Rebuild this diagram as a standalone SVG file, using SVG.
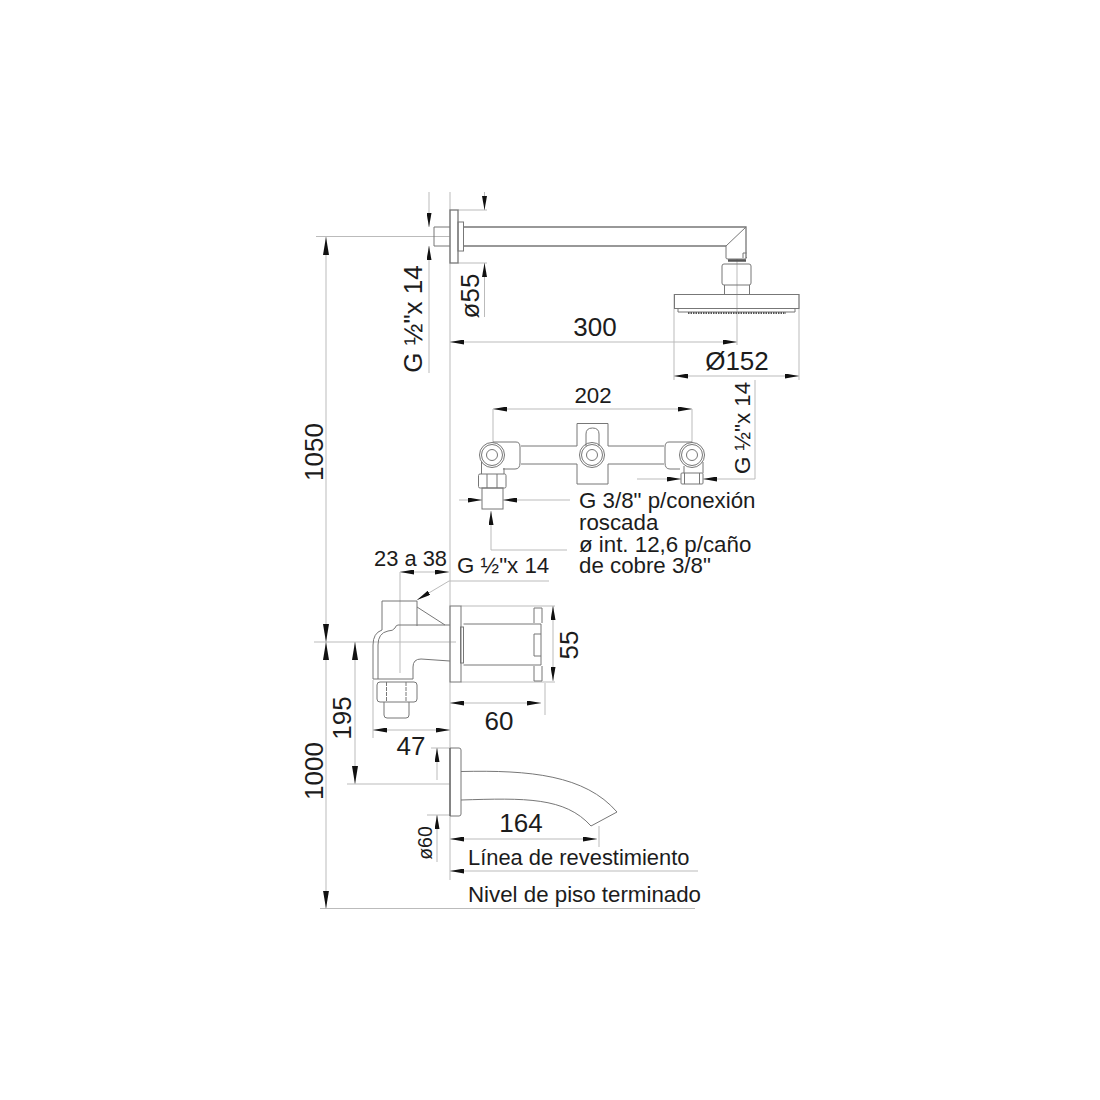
<svg xmlns="http://www.w3.org/2000/svg" width="1100" height="1100" viewBox="0 0 1100 1100">
<style>
text{font-family:"Liberation Sans",Arial,sans-serif;fill:#1c1c1c}
.t25{font-size:26px}.t21{font-size:22.3px}.t20{font-size:21.9px}.t19{font-size:19.5px}
.m{text-anchor:middle}
.o{fill:none;stroke:#777;stroke-width:1}
.o2{fill:none;stroke:#777;stroke-width:1.3}
.d{fill:none;stroke:#bbb;stroke-width:1}
.a{marker-end:url(#arr)}
.b{marker-end:url(#arrL)}
</style>
<defs>
<marker id="arr" viewBox="0 0 14 5" refX="14" refY="2.5" markerUnits="userSpaceOnUse" markerWidth="14" markerHeight="5" orient="auto"><path d="M0 0L14 2.5L0 5Z" fill="#111"/></marker>
<marker id="arrL" viewBox="0 0 18 6" refX="18" refY="3" markerUnits="userSpaceOnUse" markerWidth="18" markerHeight="6" orient="auto"><path d="M0 0L18 3L0 6Z" fill="#111"/></marker>
</defs>
<rect width="1100" height="1100" fill="#fff"/>
<g id="connectors">
<path class="d" d="M450 192V880M316 236.500H450M314 642H456M320 908.500H695"/>
<path class="d b" d="M326 440V237"/><path class="d b" d="M326 440V642"/>
<path class="d b" d="M326 775V642"/><path class="d b" d="M326 775V908.500"/>
<path class="d b" d="M355 710V642"/><path class="d b" d="M355 710V784"/><path class="d" d="M347 784H450"/>
<path class="d a" d="M429 192V227"/><path class="d a" d="M429 373V246"/>
<path class="d" d="M458 210H487M458 263H487"/>
<path class="d a" d="M484.500 192V210"/><path class="d a" d="M484.500 317V263"/>
<path class="d a" d="M595 342H450"/><path class="d a" d="M595 342H737"/><path class="d" d="M737 259V345"/>
<path class="d" d="M674 294V380M799 294V380"/>
<path class="d a" d="M737 376H674"/><path class="d a" d="M737 376H799"/>
<path class="d a" d="M590 409H493"/><path class="d a" d="M590 409H692"/><path class="d" d="M493 409V443M692 409V443"/>
<path class="d a" d="M637 479H681"/><path class="d a" d="M755 479H703"/><path class="d" d="M755 380V479"/>
<path class="d a" d="M459 500H482"/><path class="d a" d="M570 500H503"/>
<path class="d a" d="M491 550V511"/><path class="d" d="M491 550H567"/>
<path class="d a" d="M425 572H400"/><path class="d a" d="M425 572H449"/><path class="d" d="M400 572V673"/>
<path class="d" d="M549 581H449"/><path class="d a" d="M449 581L417 600"/>
<path class="d" d="M461 606H555M461 682H555"/>
<path class="d a" d="M553 640V606"/><path class="d a" d="M553 640V681"/>
<path class="d" d="M545 683V715"/><path class="d a" d="M495 703H450"/><path class="d a" d="M495 703H541"/>
<path class="d" d="M373 680V738"/><path class="d a" d="M410 730H373"/><path class="d a" d="M410 730H450"/>
<path class="d" d="M431 748H450M427 815H450"/>
<path class="d a" d="M437 780V748"/><path class="d a" d="M437 862V815"/>
<path class="d" d="M599 826V847"/><path class="d a" d="M520 839H450"/><path class="d a" d="M520 839H597"/>
<path class="d a" d="M698 871H450"/>
</g>
<g id="shower-arm">
<path class="o" d="M434 227H450M434 246H450M434 227V246"/>
<rect class="o2" x="450" y="210" width="8" height="53"/>
<rect class="o" x="458" y="222" width="5.500" height="29"/>
<path class="o2" d="M463.500 227H746V258M463.500 246H726"/>
<path class="o" d="M746 227L726 246V258Q726 259 728 259H745Q746.500 259 746.500 257"/>
<path class="o" d="M743 253H746.500M743 253V258"/>
</g>
<g id="shower-head">
<path d="M728 260.500H746" stroke="#555" stroke-width="2.500"/>
<rect class="o" x="722" y="264" width="29" height="21" rx="2"/>
<path class="o" d="M724.500 285V294M749.500 285V294"/>
<rect class="o" x="674.500" y="294.500" width="124.500" height="14"/>
<path class="o" d="M678 308.500V312H795V308.500"/>
<path d="M688 313H786" stroke="#555" stroke-width="2" stroke-dasharray="1.500 1"/>
</g>
<g id="valve-block">
<path class="o" d="M577 446V423.500H608V446M577 464V484H608V464"/>
<path class="o" d="M586 446V434Q586 428 592.500 428Q599 428 599 434V446"/>
<path class="o" d="M521 446H577M521 464H577M608 446H664M608 464H664"/>
<path class="o" d="M493 442H516Q520 442 520 447V463Q520 469 515 469H503"/>
<path class="o" d="M692 442H669Q665 442 665 447V463Q665 469 670 469H680"/>
<g class="o"><circle cx="492" cy="455" r="12.500"/><circle cx="492" cy="455" r="10.500"/><circle cx="492" cy="455" r="5.500"/>
<circle cx="592" cy="455" r="12.500"/><circle cx="592" cy="455" r="10.500"/><circle cx="592" cy="455" r="5.500"/>
<circle cx="692" cy="455" r="12.500"/><circle cx="692" cy="455" r="10.500"/><circle cx="692" cy="455" r="5.500"/></g>
<path class="o" d="M481.500 462V474M504 468V474"/>
<rect class="o" x="478.500" y="474" width="27.500" height="14" rx="1.500"/>
<path class="o" d="M487 474V488M497 474V488"/>
<rect class="o" x="482" y="488" width="21" height="21"/>
<path class="o" d="M684 466V473M703 462V473"/>
<rect class="o" x="681" y="473" width="22" height="11" rx="1"/>
<path class="o" d="M684.500 473V484M699.500 473V484"/>
</g>
<g id="mixer-body">
<path class="o" d="M382 630V601H417V626M417 607L445 625"/>
<path class="o" d="M450 625H398Q396 625 395 628Q393 631 388 631Q378 633 378 645V679M382 630Q373 633 373 645V679H413V667Q413 659 421 659L450 661"/>
<rect class="o" x="377" y="682" width="40" height="20" rx="3"/>
<path class="o" d="M386.500 682V702M406 682V702" stroke-dasharray="4 1"/>
<path class="o" d="M384 702V715Q384 718 387 718H406Q409 718 409 715V702"/>
</g>
<g id="mixer-handle">
<rect class="o" x="450" y="606" width="11" height="76"/>
<rect class="o" x="460.500" y="627" width="3" height="36"/>
<path class="o" d="M463.500 624H541V634M463.500 665H541V656"/>
<path class="o" d="M534 623V608H542V623M534 666V681H542V666M534 634H541V656H534Z"/>
</g>
<g id="spout">
<path class="o" d="M450 748H459Q461 748 461 750V814Q461 816 459 816H450"/>
<path d="M450 748V816" stroke="#666" stroke-width="1.500"/>
<path class="o" d="M461 771.500C530 770 585 775 617 812L591 826C565 797 525 798 461 800"/>
</g>
<g id="labels">
<text class="t25 m" transform="translate(323 452) rotate(-90)">1050</text>
<text class="t25 m" transform="translate(323 771) rotate(-90)">1000</text>
<text class="t25 m" transform="translate(351 718) rotate(-90)">195</text>
<text class="t25 m" transform="translate(421.500 319) rotate(-90)">G ½"x 14</text>
<text class="t25 m" transform="translate(479 296) rotate(-90)">ø55</text>
<text class="t25 m" x="595" y="336">300</text>
<text class="t25 m" x="737" y="370">Ø152</text>
<text class="t21 m" x="593" y="403">202</text>
<text class="t21 m" transform="translate(750 428) rotate(-90)">G ½"x 14</text>
<text class="t21" x="579" y="508">G 3/8" p/conexión</text>
<text class="t21" x="579" y="530">roscada</text>
<text class="t21" x="579" y="552">ø int. 12,6 p/caño</text>
<text class="t21" x="579" y="573">de cobre 3/8"</text>
<text class="t21" x="457" y="573">G ½"x 14</text>
<text class="t20" x="374" y="566">23 a 38</text>
<text class="t25 m" transform="translate(578 645) rotate(-90)">55</text>
<text class="t25 m" x="499" y="730">60</text>
<text class="t25 m" x="411" y="755">47</text>
<text class="t25 m" x="521" y="832">164</text>
<text class="t19 m" transform="translate(432 843) rotate(-90)">ø60</text>
<text class="t20" x="468" y="865">Línea de revestimiento</text>
<text class="t21" x="468" y="902">Nivel de piso terminado</text>
</g>
</svg>
